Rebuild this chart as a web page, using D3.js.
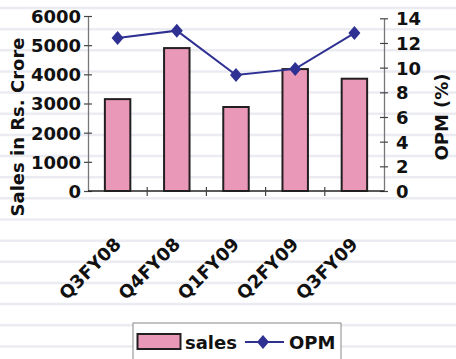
<!DOCTYPE html>
<html><head><meta charset="utf-8">
<script src="https://cdn.jsdelivr.net/npm/d3@7/dist/d3.min.js"></script>
<style>
html,body{margin:0;padding:0;background:#fff;}
svg{display:block;}
text{font-family:"DejaVu Sans",Verdana,sans-serif;font-weight:bold;fill:#111;}
</style></head>
<body>
<svg id="chart" width="456" height="359"></svg>
<script>
const categories = ["Q3FY08","Q4FY08","Q1FY09","Q2FY09","Q3FY09"];
const sales = [3150, 4900, 2880, 4180, 3850];
const opm = [12.4, 13.0, 9.4, 9.9, 12.8];
const salesTicks = [0,1000,2000,3000,4000,5000,6000];
const opmTicks = [0,2,4,6,8,10,12,14];

const svg = d3.select("#chart");
const W = 456, H = 359;

// background ruled lines
const ruleY = d3.range(8, H, 21.15);
svg.append("g").selectAll("line").data(ruleY).join("line")
  .attr("x1",0).attr("x2",W).attr("y1",d=>d).attr("y2",d=>d)
  .attr("stroke","#ebebf2").attr("stroke-width",2.5);

const left = 88, right = 384, bottom = 191;
const x = d3.scaleBand().domain(categories).range([left,right]).paddingInner(0).paddingOuter(0);
const yL = d3.scaleLinear().domain([0,6000]).range([bottom,16]);
const yR = d3.scaleLinear().domain([0,14]).range([bottom,18.3]);

// bars
const bw = x.bandwidth()*0.43;
svg.append("g").selectAll("rect").data(sales).join("rect")
  .attr("x",(d,i)=>x(categories[i])+x.bandwidth()/2-bw/2)
  .attr("y",d=>yL(d))
  .attr("width",bw)
  .attr("height",d=>bottom-yL(d))
  .attr("fill","#ea98b8").attr("stroke","#231f20").attr("stroke-width",2);

// left axis
const gL = svg.append("g").attr("transform",`translate(${left},0)`);
gL.call(d3.axisLeft(yL).tickValues(salesTicks).tickSize(0).tickPadding(10).tickFormat(d3.format("d")));
gL.select(".domain").attr("stroke","#777").attr("stroke-width",1.3);
gL.selectAll(".tick line").attr("x1",-4).attr("x2",4).attr("stroke","#444").attr("stroke-width",1.2);
gL.selectAll(".tick text").attr("font-size",18).attr("font-family","DejaVu Sans").attr("font-weight","bold").attr("fill","#111").attr("x",-7).attr("dy","0.36em");

// right axis
const gR = svg.append("g").attr("transform",`translate(${right},0)`);
gR.call(d3.axisRight(yR).tickValues(opmTicks).tickSize(0).tickFormat(d3.format("d")));
gR.select(".domain").attr("stroke","#777").attr("stroke-width",1.3);
gR.selectAll(".tick line").attr("x1",-4).attr("x2",4).attr("stroke","#444").attr("stroke-width",1.2);
gR.selectAll(".tick text").attr("font-size",18).attr("font-family","DejaVu Sans").attr("font-weight","bold").attr("fill","#111").attr("x",12).attr("dy","0.36em");

// x axis
const gX = svg.append("g").attr("transform",`translate(0,${bottom})`);
gX.append("line").attr("x1",left).attr("x2",right).attr("stroke","#222").attr("stroke-width",1.3);
const bounds = categories.slice(1).map(c=>x(c));
gX.selectAll("line.tk").data(bounds).join("line").attr("class","tk")
  .attr("x1",d=>d).attr("x2",d=>d).attr("y1",-4).attr("y2",5).attr("stroke","#444").attr("stroke-width",1.2);
gX.selectAll("text").data(categories).join("text")
  .attr("transform",d=>`translate(${x(d)+x.bandwidth()/2},${50}) rotate(-45)`)
  .attr("text-anchor","end").attr("dy","0.35em")
  .attr("font-size",18).text(d=>d);

// OPM line
const line = d3.line().x((d,i)=>x(categories[i])+x.bandwidth()/2).y(d=>yR(d));
svg.append("path").datum(opm).attr("d",line).attr("fill","none").attr("stroke","#2e3192").attr("stroke-width",2);
const diamond = "M0,-7L6,0L0,7L-6,0Z";
svg.append("g").selectAll("path").data(opm).join("path")
  .attr("transform",(d,i)=>`translate(${x(categories[i])+x.bandwidth()/2},${yR(d)})`)
  .attr("d",diamond).attr("fill","#2e3192");

// axis titles
svg.append("text").attr("transform","translate(17,127) rotate(-90)")
  .attr("text-anchor","middle").attr("dominant-baseline","central").attr("font-size",18).text("Sales in Rs. Crore");
svg.append("text").attr("transform","translate(441,117) rotate(-90)")
  .attr("text-anchor","middle").attr("dominant-baseline","central").attr("font-size",18).text("OPM (%)");

// legend
const lg = svg.append("g");
lg.append("rect").attr("x",133).attr("y",323).attr("width",208).attr("height",50)
  .attr("fill","#fff").attr("stroke","#888").attr("stroke-width",1);
lg.append("rect").attr("x",137.5).attr("y",334).attr("width",43).attr("height",15)
  .attr("fill","#ea98b8").attr("stroke","#231f20").attr("stroke-width",2);
lg.append("text").attr("x",185).attr("y",349).attr("font-size",18).text("sales");
lg.append("line").attr("x1",245).attr("x2",284).attr("y1",342).attr("y2",342).attr("stroke","#2e3192").attr("stroke-width",2);
lg.append("path").attr("transform","translate(263,342)").attr("d",diamond).attr("fill","#2e3192");
lg.append("text").attr("x",289).attr("y",349).attr("font-size",18).text("OPM");
</script>
</body></html>
